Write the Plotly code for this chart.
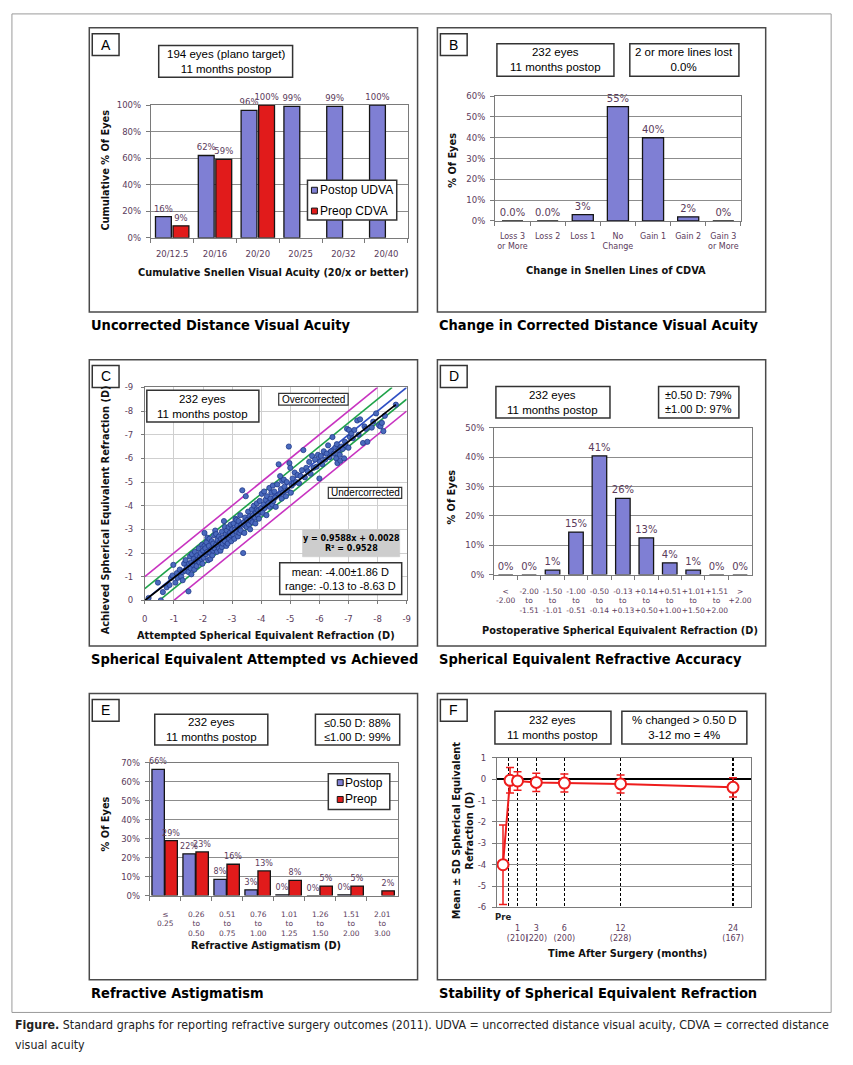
import plotly.graph_objects as go

W, H = 853, 1065
def PX(x): return x / W
def PY(y): return 1 - y / H

BLUE = '#7f7fd4'
RED = '#e11b1b'
EDGE = '#151515'
LBL = '#5b3b5b'
AXC = '#7a7a7a'
LINE_RED = '#ee1c1c'

# ---------------- Panel A ----------------
A_CATS = ['20/12.5', '20/16', '20/20', '20/25', '20/32', '20/40']
A_POSTOP = [16, 62, 96, 99, 99, 100]
A_PREOP = [9, 59, 100, None, None, None]
A_POSTOP_TXT = ['16%', '62%', '96%', '99%', '99%', '100%']
A_PREOP_TXT = ['9%', '59%', '100%', '', '', '']

# ---------------- Panel B ----------------
B_CATS = ['Loss 3<br>or More', 'Loss 2', 'Loss 1', 'No<br>Change', 'Gain 1', 'Gain 2', 'Gain 3<br>or More']
B_VALS = [0, 0, 3, 55, 40, 2, 0]
B_TXT = ['0.0%', '0.0%', '3%', '55%', '40%', '2%', '0%']

# ---------------- Panel C ----------------
C_POINTS = [
    (-0.13, -0.10), (-0.45, -0.75), (-0.55, 0.00), (-0.62, -0.35), (-0.75, -0.55), (-0.85, -0.65),
    (-0.90, -0.95), (-0.95, -1.05), (-0.98, -1.50),
    (-1.05, -0.75), (-1.10, -1.15), (-1.12, -0.95), (-1.20, -1.30), (-1.25, -1.00), (-1.30, -1.20),
    (-1.30, -0.85), (-1.35, -1.55), (-1.38, -1.25), (-1.40, -1.70), (-1.45, -1.40), (-1.50, -0.38),
    (-1.50, -1.20), (-1.52, -1.55), (-1.55, -1.85), (-1.58, -1.35), (-1.60, -1.60), (-1.60, -1.10),
    (-1.62, -1.95), (-1.65, -1.50), (-1.68, -1.75), (-1.70, -1.30), (-1.72, -2.05), (-1.75, -1.65),
    (-1.78, -1.45), (-1.80, -1.90), (-1.82, -1.70), (-1.85, -2.20), (-1.88, -1.60), (-1.90, -1.85),
    (-1.92, -2.00), (-1.95, -1.75), (-1.97, -2.35), (-1.98, -1.55), (-2.00, -2.10),
    (-2.02, -1.80), (-2.05, -2.85), (-2.05, -2.30), (-2.08, -2.20), (-2.10, -1.95), (-2.12, -2.45),
    (-2.15, -2.05), (-2.15, -2.65), (-2.18, -1.70), (-2.20, -2.30), (-2.22, -2.60), (-2.25, -2.00),
    (-2.25, -1.75), (-2.28, -2.15), (-2.30, -2.50), (-2.32, -1.90), (-2.35, -2.40), (-2.35, -2.10),
    (-2.38, -2.75), (-2.40, -2.20), (-2.42, -2.95), (-2.45, -2.35), (-2.45, -2.80), (-2.48, -2.05),
    (-2.50, -2.55), (-2.52, -2.30), (-2.55, -2.70), (-2.55, -2.20), (-2.58, -2.45), (-2.60, -2.10),
    (-2.62, -2.60), (-2.65, -2.90), (-2.65, -2.25), (-2.68, -2.40), (-2.70, -2.65), (-2.72, -3.35),
    (-2.75, -2.50), (-2.75, -3.10), (-2.78, -2.80), (-2.80, -2.30), (-2.82, -2.95), (-2.85, -2.70),
    (-2.85, -2.40), (-2.88, -3.10), (-2.90, -2.60), (-2.92, -2.85), (-2.95, -3.20), (-2.95, -2.75),
    (-2.97, -2.50), (-3.00, -3.00),
    (-3.02, -2.80), (-3.05, -3.25), (-3.08, -2.60), (-3.10, -3.00), (-3.12, -3.45), (-3.15, -2.90),
    (-3.15, -3.40), (-3.18, -3.15), (-3.20, -2.70), (-3.22, -3.35), (-3.25, -3.05), (-3.25, -2.85),
    (-3.28, -3.60), (-3.30, -2.95), (-3.32, -3.20), (-3.35, -4.65), (-3.38, -2.00), (-3.40, -3.30),
    (-3.42, -2.85), (-3.45, -3.50), (-3.45, -3.15), (-3.47, -4.40), (-3.50, -3.10), (-3.52, -3.40),
    (-3.55, -3.75), (-3.58, -3.20), (-3.60, -3.55), (-3.62, -3.00), (-3.65, -3.45), (-3.65, -3.35),
    (-3.68, -3.85), (-3.70, -3.30), (-3.72, -3.60), (-3.75, -4.00), (-3.78, -3.50), (-3.80, -3.25),
    (-3.82, -3.70), (-3.85, -4.10), (-3.85, -3.85), (-3.88, -3.60), (-3.90, -3.80), (-3.92, -3.45),
    (-3.95, -4.20), (-3.97, -3.75), (-4.00, -3.90),
    (-4.02, -4.50), (-4.05, -3.70), (-4.08, -4.05), (-4.10, -4.60), (-4.12, -3.90), (-4.15, -4.25),
    (-4.18, -3.60), (-4.20, -4.40), (-4.25, -4.10), (-4.28, -4.75), (-4.30, -3.95), (-4.32, -4.30),
    (-4.35, -4.55), (-4.38, -4.05), (-4.40, -4.85), (-4.42, -4.20), (-4.45, -4.60), (-4.48, -4.35),
    (-4.50, -3.95), (-4.55, -4.90), (-4.60, -5.75), (-4.62, -4.45), (-4.65, -5.25), (-4.68, -4.70),
    (-4.70, -4.30), (-4.72, -5.05), (-4.75, -4.55), (-4.78, -5.10), (-4.80, -4.80), (-4.85, -4.40),
    (-4.88, -5.00), (-4.90, -4.65), (-4.95, -6.50), (-4.97, -5.80), (-5.00, -5.60),
    (-5.02, -4.55), (-5.05, -4.85), (-5.08, -5.15), (-5.12, -4.95), (-5.15, -5.40), (-5.20, -5.00),
    (-5.25, -5.30), (-5.30, -4.95), (-5.35, -5.25), (-5.40, -5.50), (-5.45, -6.35), (-5.50, -5.20),
    (-5.55, -5.60), (-5.60, -5.45), (-5.65, -5.85), (-5.70, -5.35), (-5.75, -6.10), (-5.80, -5.60),
    (-5.85, -5.95), (-5.90, -5.65), (-5.95, -6.15), (-6.00, -5.15),
    (-6.02, -5.85), (-6.05, -6.10), (-6.10, -5.75), (-6.15, -6.30), (-6.20, -5.95), (-6.25, -6.20),
    (-6.30, -6.55), (-6.35, -6.05), (-6.40, -6.30), (-6.45, -6.90), (-6.50, -6.20), (-6.55, -6.45),
    (-6.58, -6.00), (-6.60, -6.60), (-6.62, -5.80), (-6.65, -6.35), (-6.70, -6.15), (-6.72, -5.90),
    (-6.75, -6.50), (-6.80, -6.40), (-6.85, -6.00), (-6.88, -6.70), (-6.90, -6.55), (-6.95, -7.25),
    (-7.00, -6.45),
    (-7.02, -7.20), (-7.05, -6.90), (-7.10, -7.05), (-7.15, -6.85), (-7.20, -7.20), (-7.30, -7.60),
    (-7.35, -7.00), (-7.40, -7.65), (-7.50, -6.65), (-7.55, -7.35), (-7.60, -7.25), (-7.65, -6.70),
    (-7.80, -7.30), (-7.85, -7.55), (-7.95, -7.90),
    (-8.05, -7.40), (-8.10, -7.35), (-8.15, -7.50), (-8.20, -7.15), (-8.25, -7.80), (-8.63, -8.27),
]
C_SLOPE, C_INTERCEPT = 0.9588, 0.0028
C_FIT_X = [0.0, -8.63]
C_BANDS = [0.5, 1.0]
C_LIMIT = -9
C_TICKS = [0, -1, -2, -3, -4, -5, -6, -7, -8, -9]
C_TICKTEXT = ['0', '-1', '-2', '-3', '-4', '-5', '-6', '-7', '-8', '-9']

# ---------------- Panel D ----------------
D_CATS = ['<<br>-2.00', '-2.00<br>to<br>-1.51', '-1.50<br>to<br>-1.01', '-1.00<br>to<br>-0.51',
          '-0.50<br>to<br>-0.14', '-0.13<br>to<br>+0.13', '+0.14<br>to<br>+0.50', '+0.51<br>to<br>+1.00',
          '+1.01<br>to<br>+1.50', '+1.51<br>to<br>+2.00', '><br>+2.00']
D_VALS = [0, 0, 1.5, 14.5, 40.5, 26, 12.5, 4, 1.5, 0, 0]
D_TXT = ['0%', '0%', '1%', '15%', '41%', '26%', '13%', '4%', '1%', '0%', '0%']

# ---------------- Panel E ----------------
E_CATS = ['\u2264<br>0.25', '0.26<br>to<br>0.50', '0.51<br>to<br>0.75', '0.76<br>to<br>1.00',
          '1.01<br>to<br>1.25', '1.26<br>to<br>1.50', '1.51<br>to<br>2.00', '2.01<br>to<br>3.00']
E_POSTOP = [66.5, 22, 8.5, 3, 0.4, 0, 0.4, None]
E_PREOP = [29, 23, 16.5, 13, 8, 5, 5, 2.5]
E_POSTOP_TXT = ['66%', '22%', '8%', '3%', '0%', '0%', '0%', '']
E_PREOP_TXT = ['29%', '23%', '16%', '13%', '8%', '5%', '5%', '2%']

# ---------------- Panel F ----------------
F_TIME = [-0.55, 0.2, 1, 3, 6, 12, 24]
F_MEAN = [-4.0, -0.05, -0.08, -0.15, -0.18, -0.22, -0.38]
F_SD = [1.86, 0.6, 0.43, 0.43, 0.42, 0.42, 0.45]
F_TICKS = [1, 3, 6, 12, 24]
F_TICKTEXT = ['1<br>(210)', '3<br>(220)', '6<br>(200)', '12<br>(228)', '24<br>(167)']
F_GRID = [0, 1, 3, 6, 12, 24]
F_YTICKS = [1, 0, -1, -2, -3, -4, -5, -6]
F_YTEXT = ['1', '0', '-1', '-2', '-3', '-4', '-5', '-6']

TICKFONT = dict(family='DejaVu Sans', size=8.5, color=LBL)
SANS = 'Liberation Sans, Arial, sans-serif'
NARROW = 'DejaVu Sans Condensed, Liberation Sans Narrow, sans-serif'

fig = go.Figure()

def bar(x, y, txt, color, offset, width, ax, size=8.5):
    fig.add_trace(go.Bar(
        x=x, y=y, text=txt, textposition='outside', cliponaxis=False, constraintext='none',
        textfont=dict(family='DejaVu Sans', size=size, color=LBL),
        marker=dict(color=color, line=dict(color=EDGE, width=1.3)),
        offset=offset, width=width, xaxis='x' + ax, yaxis='y' + ax, showlegend=False,
        hoverinfo='skip'))

# A
bar(A_CATS, A_POSTOP, A_POSTOP_TXT, BLUE, -0.39, 0.37, '')
bar(A_CATS, A_PREOP, A_PREOP_TXT, RED, 0.02, 0.37, '')
# B
bar(B_CATS, B_VALS, B_TXT, BLUE, -0.3, 0.6, '2', size=10)

# C
att = [p[0] for p in C_POINTS]
ach = [p[1] for p in C_POINTS]
for b, col in [(C_BANDS[1], '#c833c0'), (C_BANDS[0], '#1fa34a')]:
    for s in (1, -1):
        if s == 1:
            xs = [0, C_LIMIT + b]
            ys = [-b, C_LIMIT]
        else:
            xs = [-b, C_LIMIT]
            ys = [0, C_LIMIT + b]
        fig.add_trace(go.Scatter(x=xs, y=ys, mode='lines', line=dict(color=col, width=1.6),
                                 xaxis='x3', yaxis='y3', showlegend=False, hoverinfo='skip'))
fig.add_trace(go.Scatter(x=[0, C_LIMIT], y=[0, C_LIMIT], mode='lines', line=dict(color='#2e4fc4', width=1.6),
                         xaxis='x3', yaxis='y3', showlegend=False, hoverinfo='skip'))
fig.add_trace(go.Scatter(x=att, y=ach, mode='markers',
                         marker=dict(size=5.2, color='#4a6abd', line=dict(color='#223b8c', width=0.8)),
                         xaxis='x3', yaxis='y3', showlegend=False, hoverinfo='skip'))
fig.add_trace(go.Scatter(x=C_FIT_X, y=[C_SLOPE * v + C_INTERCEPT for v in C_FIT_X], mode='lines',
                         line=dict(color='black', width=1.8), xaxis='x3', yaxis='y3',
                         showlegend=False, hoverinfo='skip'))
# D
bar(D_CATS, D_VALS, D_TXT, BLUE, -0.31, 0.62, '4', size=10)
# E
bar(E_CATS, E_POSTOP, E_POSTOP_TXT, BLUE, -0.43, 0.40, '5', size=8)
bar(E_CATS, E_PREOP, E_PREOP_TXT, RED, -0.01, 0.40, '5', size=8)
# F
fig.add_trace(go.Scatter(x=F_TIME, y=F_MEAN, mode='lines+markers',
                         line=dict(color=LINE_RED, width=2),
                         marker=dict(symbol='circle', size=11, color='white', line=dict(color=LINE_RED, width=2)),
                         error_y=dict(type='data', array=F_SD, color=LINE_RED, thickness=1.5, width=4),
                         xaxis='x6', yaxis='y6', showlegend=False, hoverinfo='skip', cliponaxis=False))

def cat_x(dom, anchor, standoff, size=8.5):
    return dict(domain=[PX(dom[0]), PX(dom[1])], anchor=anchor, type='category', tickangle=0,
                tickson='boundaries', ticks='outside', ticklen=4, tickcolor=AXC,
                showline=True, linecolor=AXC, mirror=True, showgrid=False, zeroline=False,
                tickfont=dict(family='DejaVu Sans', size=size, color=LBL), ticklabelstandoff=standoff,
                fixedrange=True)

def pct_y(dom, anchor, rng, dtick, grid='#8c8c8c'):
    return dict(domain=[PY(dom[1]), PY(dom[0])], anchor=anchor, range=rng, dtick=dtick, ticksuffix='%',
                showgrid=True, gridcolor=grid, gridwidth=1, ticks='outside', ticklen=4, tickcolor=AXC,
                showline=True, linecolor=AXC, mirror=True, zeroline=False, tickfont=TICKFONT,
                ticklabelstandoff=3, fixedrange=True)

layout = dict(
    width=W, height=H, margin=dict(l=0, r=0, t=0, b=0), paper_bgcolor='white', plot_bgcolor='white',
    barmode='overlay', showlegend=False,
    xaxis=cat_x((149, 408), 'y', 8),
    yaxis=pct_y((101, 235), 'x', [0, 100], 20),
    xaxis2=cat_x((496, 744), 'y2', 7, 8),
    yaxis2=pct_y((92, 218), 'x2', [0, 60], 10),
    xaxis3=dict(domain=[PX(143), PX(407)], anchor='y3', range=[0, -9], tickvals=C_TICKS, ticktext=C_TICKTEXT,
                showgrid=True, gridcolor='#cfcfcf', ticks='outside', ticklen=3, tickcolor=AXC, tickangle=0,
                showline=True, linecolor=AXC, mirror=True, zeroline=False, tickfont=TICKFONT,
                ticklabelstandoff=7, fixedrange=True),
    yaxis3=dict(domain=[PY(601), PY(386)], anchor='x3', range=[0, -9], tickvals=C_TICKS, ticktext=C_TICKTEXT,
                showgrid=True, gridcolor='#cfcfcf', ticks='outside', ticklen=3, tickcolor=AXC,
                showline=True, linecolor=AXC, mirror=True, zeroline=False, tickfont=TICKFONT,
                ticklabelstandoff=6, fixedrange=True),
    xaxis4=cat_x((495, 755), 'y4', 9, 7.5),
    yaxis4=pct_y((427, 575), 'x4', [0, 50], 10),
    xaxis5=cat_x((148, 398), 'y5', 11, 7.5),
    yaxis5=pct_y((765, 899), 'x5', [0, 70], 10),
    xaxis6=dict(domain=[PX(498), PX(754)], anchor='y6', range=[-1.2, 25.9], tickvals=F_TICKS,
                ticktext=F_TICKTEXT, ticks='', tickangle=0, showgrid=False, showline=True, linecolor=AXC,
                mirror=True, zeroline=False, tickfont=dict(family='DejaVu Sans', size=8, color=LBL),
                ticklabelstandoff=13,
                minor=dict(tickvals=F_GRID, showgrid=True, griddash='3px,2px', gridcolor='black', gridwidth=1.2),
                fixedrange=True),
    yaxis6=dict(domain=[PY(911), PY(760)], anchor='x6', range=[-6, 1], tickvals=F_YTICKS, ticktext=F_YTEXT,
                showgrid=True, gridcolor='#8c8c8c', ticks='outside', ticklen=4, tickcolor=AXC,
                showline=True, linecolor=AXC, mirror=True, zeroline=True, zerolinecolor='black',
                zerolinewidth=2, tickfont=TICKFONT, ticklabelstandoff=4, fixedrange=True),
)

shapes = []
annotations = []

def rect(x0, y0, x1, y1, color='#444', width=1.5, fill='rgba(0,0,0,0)'):
    shapes.append(dict(type='rect', xref='paper', yref='paper', x0=PX(x0), x1=PX(x1), y0=PY(y1), y1=PY(y0),
                       line=dict(color=color, width=width), fillcolor=fill, layer='above'))

def text(x, y, s, size=11, family=SANS, color='black', xanchor='center', yanchor='middle', angle=0,
         xref='paper', yref='paper'):
    annotations.append(dict(x=PX(x) if xref == 'paper' else x, y=PY(y) if yref == 'paper' else y,
                            xref=xref, yref=yref, text=s, showarrow=False, xanchor=xanchor,
                            yanchor=yanchor, textangle=angle, font=dict(family=family, size=size, color=color)))

def box_text(x0, y0, x1, y1, s, size=11.5, family=SANS, fill='white', bw=1.5):
    rect(x0, y0, x1, y1, color='#333', width=bw, fill=fill)
    text((x0 + x1) / 2, (y0 + y1) / 2, s, size=size, family=family)

# outer frame
rect(9, 9, 835, 1017, color='#9a9a9a', width=1)

# panel boxes and labels
PANEL_BOXES = {'A': (87, 23), 'B': (438, 23), 'C': (87, 358), 'D': (438, 358), 'E': (87, 695), 'F': (438, 695)}
for k, (bx, by) in PANEL_BOXES.items():
    rect(bx, by, bx + 331, by + 289 if by != 23 else by + 287, color='#4a4a4a', width=1.5)
    box_text(bx + 3, by + 6, bx + 30, by + 28, k, size=14)

# panel titles
TITLES = [(87, 323, 'Uncorrected Distance Visual Acuity'), (438, 323, 'Change in Corrected Distance Visual Acuity'),
          (87, 660, 'Spherical Equivalent Attempted vs Achieved'), (438, 660, 'Spherical Equivalent Refractive Accuracy'),
          (87, 997, 'Refractive Astigmatism'), (438, 997, 'Stability of Spherical Equivalent Refraction')]
for x, y, s in TITLES:
    text(x, y, '<b>' + s + '</b>', size=14.5, family=NARROW, xanchor='left')

# info boxes
box_text(157, 41, 292, 73, '194 eyes (plano target)<br>11 months postop')
box_text(498, 39, 616, 72, '232 eyes<br>11 months postop')
box_text(632, 39, 742, 72, '2 or more lines lost<br>0.0%')
box_text(145, 389, 258, 421, '232 eyes<br>11 months postop')
box_text(278, 392, 348, 404, 'Overcorrected', size=10, bw=1.2)
box_text(328, 487, 402, 498, 'Undercorrected', size=10, bw=1.2)
rect(302, 530, 400, 557, color='#c8c8c8', width=0.5, fill='#cdcdcd')
text(351, 543.5, '<b>y = 0.9588x + 0.0028<br>R\u00b2 = 0.9528</b>', size=8, family='DejaVu Sans')
box_text(279, 563, 402, 595, 'mean: -4.00\u00b11.86 D<br>range: -0.13 to -8.63 D', size=11)
box_text(497, 385, 612, 417, '232 eyes<br>11 months postop')
box_text(661, 385, 742, 417, '\u00b10.50 D: 79%<br>\u00b11.00 D: 97%', size=11)
box_text(153, 716, 267, 747, '232 eyes<br>11 months postop')
box_text(315, 716, 400, 747, '\u22640.50 D: 88%<br>\u22641.00 D: 99%', size=11)
box_text(496, 713, 613, 746, '232 eyes<br>11 months postop')
box_text(624, 713, 750, 746, '% changed > 0.50 D<br>3-12 mo = 4%')

# legends (A and E)
rect(307, 177, 397, 217, color='#333', width=1.5, fill='white')
rect(311, 184, 317, 190, color=EDGE, width=1, fill=BLUE)
rect(311, 205, 317, 211, color=EDGE, width=1, fill=RED)
text(318, 187, 'Postop UDVA', size=12, xanchor='left')
text(318, 208, 'Preop CDVA', size=12, xanchor='left')
rect(328, 776, 390, 812, color='#333', width=1.5, fill='white')
rect(337, 782, 343, 788, color=EDGE, width=1, fill=BLUE)
rect(337, 799, 343, 805, color=EDGE, width=1, fill=RED)
text(343, 785, 'Postop', size=12, xanchor='left')
text(343, 802, 'Preop', size=12, xanchor='left')

# axis titles
AT = dict(size=9.8, family='DejaVu Sans', color='#111')
def atitle(x, y, s, angle=0):
    text(x, y, '<b>' + s + '</b>', angle=angle, **AT)
atitle(273, 270, 'Cumulative Snellen Visual Acuity (20/x or better)')
atitle(103, 167, 'Cumulative % Of Eyes', -90)
atitle(618, 268, 'Change in Snellen Lines of CDVA')
atitle(453, 157, '% Of Eyes', -90)
atitle(265, 636, 'Attempted Spherical Equivalent Refraction (D)')
atitle(103, 510, 'Achieved Spherical Equivalent Refraction (D)', -90)
atitle(622, 631, 'Postoperative Spherical Equivalent Refraction (D)')
atitle(452, 497, '% Of Eyes', -90)
atitle(265, 949, 'Refractive Astigmatism (D)')
atitle(103, 827, '% Of Eyes', -90)
atitle(630, 957, 'Time After Surgery (months)')
atitle(464, 833, 'Mean \u00b1 SD Spherical Equivalent<br>Refraction (D)', -90)
text(F_TIME[0], 921, '<b>Pre</b>', size=8.5, family='DejaVu Sans', color='#222', xref='x6')

# caption
text(10, 1030, '<b>Figure.</b> Standard graphs for reporting refractive surgery outcomes (2011). UDVA = uncorrected distance visual acuity, CDVA = corrected distance',
     size=12.3, family=NARROW, color='#222', xanchor='left')
text(10, 1050, 'visual acuity', size=12.3, family=NARROW, color='#222', xanchor='left')

layout['shapes'] = shapes
layout['annotations'] = annotations
fig.update_layout(**layout)

fig.write_html('out.html', config={'displayModeBar': False, 'staticPlot': True},
               post_script="document.body.style.margin='0';document.body.style.overflow='hidden';")
